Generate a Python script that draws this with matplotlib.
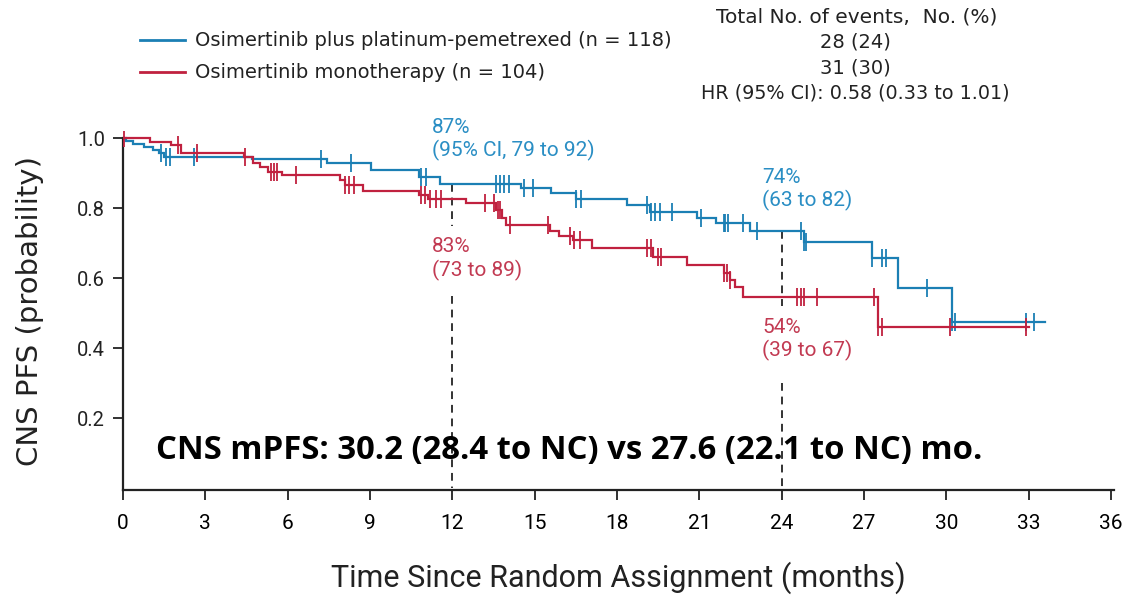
import numpy as np
import matplotlib
matplotlib.use("Agg")
import matplotlib.pyplot as plt
from matplotlib.lines import Line2D

# ---- Kaplan-Meier step data (time in months, survival probability) ----
combo_times = [0, 0.1, 0.35, 0.75, 1.1, 1.3, 1.5, 4.7, 7.45, 9.05, 10.8, 11.55,
               14.5, 15.6, 16.5, 18.35, 19.2, 20.9, 21.6, 22.85, 24.8, 27.3,
               28.25, 30.2]
combo_surv = [1.0, 0.992, 0.983, 0.975, 0.966, 0.957, 0.947, 0.94, 0.93, 0.91,
              0.89, 0.87, 0.857, 0.844, 0.826, 0.808, 0.788, 0.771, 0.757,
              0.733, 0.704, 0.657, 0.571, 0.475]
combo_end = 33.6
combo_censor = [1.4, 1.55, 1.7, 2.6, 7.2, 8.3, 10.85, 11.05, 13.6, 13.75, 13.9,
                14.05, 14.6, 14.95, 16.5, 16.7, 19.1, 19.25, 19.4, 19.55, 20.0,
                21.05, 21.9, 21.95, 22.05, 22.6, 23.1, 24.7, 24.8, 24.9, 27.3,
                27.65, 27.8, 29.3, 30.2, 30.3, 32.9, 33.2]

mono_times = [0, 1.0, 1.75, 2.1, 4.4, 4.75, 5.0, 5.3, 5.8, 7.9, 8.1, 8.75,
              10.8, 11.1, 12.5, 13.6, 13.8, 13.95, 15.55, 15.9, 16.4, 17.1,
              19.3, 20.55, 21.9, 22.1, 22.3, 22.6, 27.5]
mono_surv = [1.0, 0.99, 0.98, 0.957, 0.945, 0.93, 0.918, 0.904, 0.894, 0.88,
             0.865, 0.85, 0.837, 0.826, 0.813, 0.794, 0.771, 0.751, 0.735,
             0.721, 0.708, 0.685, 0.661, 0.637, 0.614, 0.594, 0.575, 0.545,
             0.461]
mono_end = 33.0
mono_censor = [0.05, 2.0, 2.7, 4.45, 5.4, 5.5, 5.6, 6.3, 8.1, 8.25, 8.4, 10.85,
               11.0, 11.2, 11.4, 11.6, 13.2, 13.5, 13.65, 13.75, 14.1, 15.5,
               16.3, 16.45, 16.65, 19.1, 19.25, 19.5, 19.6, 21.9, 22.0, 22.1,
               24.55, 24.7, 24.8, 25.3, 27.35, 27.5, 27.65, 30.15, 32.9]

legend_labels = ["Osimertinib plus platinum-pemetrexed (n = 118)",
                 "Osimertinib monotherapy (n = 104)"]
events_header = "Total No. of events,  No. (%)"
events_rows = ["28 (24)", "31 (30)", "HR (95% CI): 0.58 (0.33 to 1.01)"]

landmarks = [12, 24]
combo_landmark_text = ["87%\n(95% CI, 79 to 92)", "74%\n(63 to 82)"]
mono_landmark_text = ["83%\n(73 to 89)", "54%\n(39 to 67)"]

x_ticks = list(range(0, 37, 3))
y_ticks = [0.2, 0.4, 0.6, 0.8, 1.0]

BLUE = "#1b7fb4"
RED = "#c0213f"
BLUE_TXT = "#2a8ec4"
RED_TXT = "#c23a52"
SANS = ["DejaVu Sans"]
REG = ["Roboto", "DejaVu Sans"]

W, H = 1122, 596
fig = plt.figure(figsize=(W / 100, H / 100), dpi=100)

ylo, yhi = -0.006, 1.02
xlo, xhi = 0, 36.1
px_x0, px_x36 = 123, 1111
px_y0, px_y1 = 488, 138
ax_left = px_x0 / W
ax_w = (px_x36 - px_x0) / W * (xhi - xlo) / 36
ax_bot = 1 - (px_y0 + (0 - ylo) * (px_y0 - px_y1)) / H
ax_h = (yhi - ylo) * (px_y0 - px_y1) / H
ax = fig.add_axes([ax_left, ax_bot, ax_w, ax_h])


def surv_at(times, surv, t):
    i = np.searchsorted(times, t, side="right") - 1
    return np.asarray(surv)[i]


def draw_arm(times, surv, end, censor, color):
    t = list(times) + [end]
    s = list(surv) + [surv[-1]]
    ax.step(t, s, where="post", color=color, lw=1.6, zorder=3,
            solid_joinstyle="miter")
    cs = [surv_at(times, surv, c) for c in censor]
    ax.plot(censor, cs, ls="none", marker="|", ms=13, mew=1.3,
            color=color, zorder=3)


draw_arm(combo_times, combo_surv, combo_end, combo_censor, BLUE)
draw_arm(mono_times, mono_surv, mono_end, mono_censor, RED)

# landmark guides
for lm, top_gap, low_start in zip(landmarks, [0.75, 0.52], [0.55, 0.30]):
    top = surv_at(combo_times, combo_surv, lm)
    ax.plot([lm, lm], [top, top_gap], color="#333333", lw=1.4,
            ls=(0, (4, 3)), zorder=2)
    ax.plot([lm, lm], [low_start, 0], color="#333333", lw=1.4,
            ls=(0, (4, 3)), zorder=2)

# landmark annotations
ann_kw = dict(fontsize=15, family=REG, va="top", ha="left",
              linespacing=1.2)
ax.text(11.25, 1.058, combo_landmark_text[0], color=BLUE_TXT, **ann_kw)
ax.text(23.3, 0.914, combo_landmark_text[1], color=BLUE_TXT, **ann_kw)
ax.text(11.25, 0.716, mono_landmark_text[0], color=RED_TXT, **ann_kw)
ax.text(23.3, 0.486, mono_landmark_text[1], color=RED_TXT, **ann_kw)

ax.text(1.2, 0.108, "CNS mPFS: 30.2 (28.4 to NC) vs 27.6 (22.1 to NC) mo.",
        fontsize=23.7, fontweight="bold",
        family=["Open Sans", "DejaVu Sans"], va="center", ha="left",
        color="black")

ax.set_xlim(xlo, xhi)
ax.set_ylim(ylo, yhi)
ax.set_xticks(x_ticks)
ax.set_xticklabels([str(v) for v in x_ticks], family=REG, fontsize=15)
ax.set_yticks(y_ticks)
ax.set_yticklabels([f"{v:.1f}" for v in y_ticks], family=REG, fontsize=14.5,
                   color="#222222")
ax.tick_params(axis="x", direction="out", length=7, width=1.3, pad=10,
               color="#222222")
ax.tick_params(axis="y", direction="out", length=7, width=1.3, pad=6,
               color="#222222")
for side in ("top", "right"):
    ax.spines[side].set_visible(False)
for side in ("left", "bottom"):
    ax.spines[side].set_linewidth(1.6)
    ax.spines[side].set_color("#222222")
ax.spines["left"].set_bounds(ylo, 1.0)

ax.set_xlabel("Time Since Random Assignment (months)", family=REG,
              fontsize=22, labelpad=21, color="#222222")
ax.set_ylabel("CNS PFS (probability)", family=SANS, fontsize=21,
              labelpad=24, color="#222222")

# legend drawn in figure space
for k, (lab, col) in enumerate(zip(legend_labels, [BLUE, RED])):
    yy = 1 - (40 + 32 * k) / H
    fig.add_artist(Line2D([140 / W, 185 / W], [yy, yy], color=col, lw=2))
    fig.text(195 / W, yy, lab, family=SANS, fontsize=14, va="center",
             ha="left", color="#222222")

fig.text(857 / W, 1 - 17 / H, events_header, family=SANS, fontsize=14.5,
         va="center", ha="center", color="#222222")
for k, row in enumerate(events_rows):
    fig.text(855 / W, 1 - (42 + 25.5 * k) / H, row, family=SANS,
             fontsize=13.8 if k == 2 else 14, va="center", ha="center",
             color="#222222")

fig.savefig("out.png", dpi=100, facecolor="white")
